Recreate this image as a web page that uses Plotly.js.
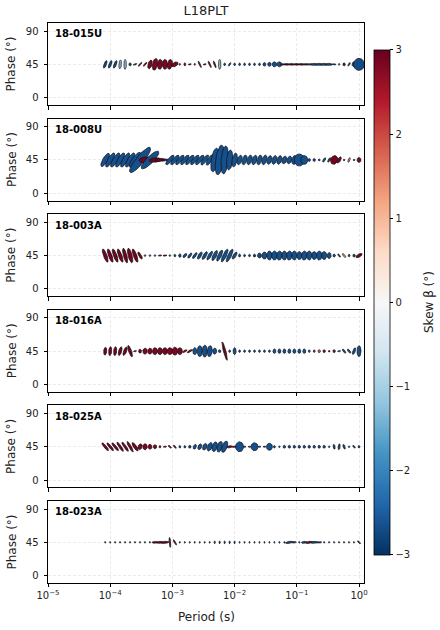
<!DOCTYPE html>
<html><head><meta charset="utf-8">
<script src="https://cdn.plot.ly/plotly-3.0.1.min.js"></script>
<style>html,body{margin:0;padding:0;background:#fff}</style>
</head><body><div id="chart" style="width:440px;height:630px"></div>
<script>
const chartTitle = "L18PLT";
const stationNames = ["18-015U","18-008U","18-003A","18-016A","18-025A","18-023A"];
const xTickVals = [1e-5,1e-4,1e-3,1e-2,1e-1,1];
const xTickText = ["10<sup>−5</sup>","10<sup>−4</sup>","10<sup>−3</sup>","10<sup>−2</sup>","10<sup>−1</sup>","10<sup>0</sup>"];
const yTickVals = [0,45,90];
const skewTicks = [-3,-2,-1,0,1,2,3];

// log10 of period (s)
const logPeriod = [-4.08,-4.00,-3.92,-3.84,-3.76,-3.68,-3.60,-3.52,-3.44,-3.36,-3.28,-3.20,-3.12,-3.04,-2.96,-2.88,-2.80,-2.72,-2.64,-2.56,-2.48,-2.40,-2.32,-2.24,-2.16,-2.08,-2.00,-1.92,-1.84,-1.76,-1.68,-1.60,-1.52,-1.44,-1.36,-1.28,-1.20,-1.12,-1.04,-0.96,-0.88,-0.80,-0.72,-0.64,-0.56,-0.48,-0.40,-0.32,-0.24,-0.16,-0.08,0.00];

// station 1: 18-015U
const s1Major = [8,8,8,9,10, 3,4,5,5,9, 12,10,10,10,7, 2,3,3,2,7, 3,7,7,10,2.5, 4,2.5,2.5,2.5,2.5, 2.5,2.5,3.5,4,5, 5,8,8,8,8, 8,6,7,7,7, 7,4,2,3,4, 5,12];
const s1Minor = [2.5,2.5,2.5,2.5,2.5, 2.5,1.2,1.5,1.5,4, 5,5,5,5,4, 1.5,2,1.2,1.5,1.5, 1.2,1.5,1.5,2.5,2, 1.5,2,2,2,2, 2,2,3,3.5,4.5, 5,1.5,1.5,1.5,1.5, 1.5,1.5,2,2,2, 2,1.2,1.5,2.5,1.5, 4,11];
const s1Azim = [20,20,20,5,0, 0,70,40,40,15, 10,5,0,10,60, 0,0,80,0,-25, 80,-25,-20,0,0, 30,0,0,0,0, 0,0,0,0,0, 0,90,90,90,90, 90,90,90,90,90, 90,90,0,0,30, 0,0];
const s1Skew = [-2.7,-2.7,-2.7,-1.3,-1.2, -2.7,2.85,2.9,2.9,2.85, 2.85,2.85,2.85,2.85,2.85, 2.75,2.85,2.75,2.75,2.8, 2.75,2.8,2.8,-1.2,-2.6, -2.6,-2.6,-2.6,-2.6,-2.6, -2.6,-2.6,-2.65,-2.65,-2.65, -2.65,2.85,2.85,2.85,2.85, 2.85,-2.65,-2.65,-2.65,-2.65, -2.65,-2.4,-2.4,2.85,-2.5, -2.65,-2.7];

// station 2: 18-008U
const s2Major = [15,16,16,16,16, 16,18,32,12,24, 12,10,8,12,12, 12,12,12,12,12, 12,12,24,30,28, 20,14,10,10,10, 10,10,10,9,9, 9,8,8,9,12, 9,3,3,2,5, 5,9,7,2,5, 2,5];
const s2Minor = [5,5,5,5,5, 5,6,8,6,7, 4.5,3,2,4,4, 4,4,4,4,4, 4,4,7,8,7, 6,5,4.5,4.5,4.5, 4.5,4.5,4.5,4.5,4.5, 4.5,4.5,4.5,5,10, 7,2.5,2.5,2,2, 2,7,3,1.5,1.8, 1.5,4];
const s2Azim = [30,30,30,30,30, 30,35,39,85,45, 85,85,85,40,40, 40,40,40,40,40, 35,30,10,8,5, 5,10,15,15,15, 15,15,15,15,15, 15,15,15,10,0, 0,0,0,0,30, 30,20,30,0,20, 0,0];
const s2Skew = [-2.65,-2.65,-2.65,-2.65,-2.65, -2.65,-2.65,-2.65,2.9,-2.65, 2.9,2.9,2.9,-2.65,-2.65, -2.65,-2.65,-2.65,-2.65,-2.65, -2.65,-2.65,-2.65,-2.65,-2.65, -2.65,-2.65,-2.65,-2.65,-2.65, -2.65,-2.65,-2.65,-2.65,-2.65, -2.65,-2.65,-2.65,-2.65,-2.65, -2.65,-2.65,-2.65,-2.65,-2.65, -2.65,2.9,2.85,-2.6,1.3, -2.6,2.8];

// station 3: 18-003A
const s3Major = [14,14,14,14,15, 15,14,8,2,2, 2,3.5,4,2,2.5, 3.5,5,6,7,8, 9,10,11,12,14, 14,8,3,2.5,2.5, 3,5,7,9,9, 9,9,9,9,8, 9,9,8,9,8, 6,3,4,5,2.5, 3,7];
const s3Minor = [3.5,3.5,3.5,3.5,3.5, 4,3.5,2.5,1.5,1.5, 1.5,1.2,1.2,1.5,2, 2.5,2.5,2.5,2.5,3, 3,3,3.5,3.5,3.5, 3.5,3,2.2,2,2, 2.5,4,5,5,5.5, 5.5,5,5.5,5,5, 5.5,5,5,5.5,5, 4,2.5,1.5,1.8,2, 2.5,3];
const s3Azim = [-20,-20,-20,-20,-15, -15,-20,-30,0,0, 0,80,80,0,0, 0,40,35,35,30, 30,30,25,25,25, 25,30,0,0,0, 0,0,0,0,0, 5,0,5,0,0, 5,0,0,0,0, 0,0,-40,-40,0, 0,60];
const s3Skew = [2.9,2.9,2.9,2.9,2.9, 2.9,2.9,2.9,-2.6,-2.6, -2.6,2.8,2.8,-2.6,-2.65, -2.65,-2.65,-2.65,-2.65,-2.65, -2.65,-2.65,-2.65,-2.65,-2.65, -2.65,-2.65,-2.65,-2.65,-2.65, -2.65,-2.65,-2.65,-2.65,-2.65, -2.65,-2.65,-2.65,-2.65,-2.65, -2.65,-2.65,-2.65,-2.65,-2.65, -2.65,-2.65,-2.65,1.2,-2.6, -2.6,2.9];

// station 4: 18-016A
const s4Major = [8,9,9,9,9, 12,3,4,6,6, 7,7,7,7,8, 7,5,6,7,11, 12,11,6,3,19, 2.5,7,2.5,2.5,2.5, 2.5,2.5,2.5,2.5,4.5, 4.5,4.5,4.5,4.5,4.5, 4.5,2.5,2.5,3,3, 2,3,3,5,5, 7,11];
const s4Minor = [3,3,3,3,3, 3,1.2,3,4.5,4.5, 5,5,5,5.5,5.5, 5,1.8,1.8,4,5, 5,5,4,2.5,2.5, 2,3,2,2,2, 2,2,2,2,3, 3,3,3,3,3, 3,2,2,2.5,2.5, 1.5,2.5,1.2,2,2, 2.5,4];
const s4Azim = [5,5,5,15,20, -20,80,0,0,0, 0,0,0,0,0, 0,60,60,0,0, 0,5,0,0,-15, 0,0,0,0,0, 0,0,0,0,0, 0,0,0,0,0, 0,0,0,0,0, 0,0,80,-40,-40, 20,0];
const s4Skew = [2.9,2.9,2.9,2.9,2.9, 2.9,2.8,2.85,2.85,2.85, 2.85,2.85,2.85,2.85,2.85, 2.85,2.8,2.8,-2.65,-2.65, -2.65,-2.65,-2.65,-2.65,2.9, -2.6,-2.65,-2.6,-2.6,-2.6, -2.6,-2.6,-2.6,-2.6,-2.65, -2.65,-2.65,-2.65,-2.65,-2.65, -2.65,-2.6,-2.6,1.8,2.85, 2.75,2.8,-2.6,-2.65,-2.65, -2.65,-2.65];

// station 5: 18-025A
const s5Major = [10,10,10,11,11, 12,10,6,6,5, 4,2.5,3.5,4,4, 2.5,2.5,3,5,6, 7,9,10,11,12, 6,5,10,3,3, 8,3,3,7,2.5, 2,3,3,3,3, 3,3,3,3,3, 2,5,6,5,2, 3.5,2.5];
const s5Minor = [2.5,2.5,2.5,2.5,2.5, 2.5,3,4,4.5,4, 3.5,2,1.2,1.5,1.5, 2,2,2.5,3,3.5, 4,4.5,5,5,5, 2,1.5,8,1.2,1.2, 7,1.2,1.2,6,2, 1.5,2.5,2.5,2.5,2.5, 2.5,2.5,2.5,2.5,2.5, 1.5,2,2,2,1.5, 1.5,2];
const s5Azim = [-40,-40,-40,-35,-35, -30,-35,20,0,0, 0,0,80,-50,-40, 0,0,0,20,20, 20,20,15,15,20, 80,85,0,90,90, 0,90,90,0,0, 0,0,0,0,0, 0,0,0,0,0, 0,-10,5,-20,0, -40,0];
const s5Skew = [2.9,2.9,2.9,2.9,2.9, 2.9,2.9,2.85,2.85,2.85, 2.85,2.75,2.75,2.75,2.75, -2.6,-2.6,-2.6,-2.65,-2.65, -2.65,-2.65,-2.65,-2.65,-2.65, 2.85,2.85,-2.65,-2.6,-2.6, -2.65,-2.6,-2.6,-2.65,-2.6, -2.6,-2.65,-2.65,-2.65,-2.65, -2.65,-2.65,-2.65,-2.65,-2.65, -2.6,-2.65,-2.65,-2.65,-2.6, -2.65,-2.6];

// station 6: 18-023A
const s6Major = [1.8,1.8,1.8,1.8,1.8, 1.8,1.8,1.8,1.8,1.8, 6,7,8,10,6, 1.8,1.8,1.8,1.8,1.8, 1.8,1.8,3,3,3, 3,3,1.8,1.8,1.8, 1.8,1.8,1.8,1.8,1.8, 1.8,1.8,8,4,1.8, 6,7,7,5,1.8, 1.8,1.8,1.8,1.8,1.8, 1.8,4];
const s6Minor = [1.2,1.2,1.2,1.2,1.2, 1.2,1.2,1.2,1.2,1.2, 1.8,2,2,1.5,1.5, 1.2,1.2,1.2,1.2,1.2, 1.2,1.2,1.2,1.2,1.2, 1.2,1.2,1.2,1.2,1.2, 1.2,1.2,1.2,1.2,1.2, 1.2,1.2,2,1.5,1.2, 2,2,2,1.5,1.2, 1.2,1.2,1.2,1.2,1.2, 1.2,1.5];
const s6Azim = [0,0,0,0,0, 0,0,0,0,0, 88,88,85,-5,-30, 0,0,0,0,0, 0,0,0,0,0, 0,0,0,0,0, 0,0,0,0,0, 0,0,80,80,0, 85,80,85,85,0, 0,0,0,0,0, 0,-45];
const s6Skew = [-2.65,-2.65,-2.65,-2.65,-2.65, -2.65,-2.65,-2.65,-2.65,-2.65, 2.85,2.85,2.85,2.8,2.8, -2.65,-2.65,-2.65,-2.65,-2.65, -2.65,-2.65,-2.65,-2.65,-2.65, -2.65,-2.65,-2.65,-2.65,-2.65, -2.65,-2.65,-2.65,-2.65,-2.65, -2.65,-2.65,-2.65,-2.65,-2.65, -2.65,2.8,-2.65,-2.65,-2.65, -2.65,-2.65,-2.65,-2.65,-2.65, -2.65,-2.65];

const stations = [
  {major:s1Major, minor:s1Minor, azim:s1Azim, skew:s1Skew},
  {major:s2Major, minor:s2Minor, azim:s2Azim, skew:s2Skew},
  {major:s3Major, minor:s3Minor, azim:s3Azim, skew:s3Skew},
  {major:s4Major, minor:s4Minor, azim:s4Azim, skew:s4Skew},
  {major:s5Major, minor:s5Minor, azim:s5Azim, skew:s5Skew},
  {major:s6Major, minor:s6Minor, azim:s6Azim, skew:s6Skew}
];

const rdbuHex = ['#053061','#2166ac','#4393c3','#92c5de','#d1e5f0','#f7f7f7','#fddbc7','#f4a582','#d6604d','#b2182b','#67001f'];
const colorscale = rdbuHex.map((c,i)=>[i/10,c]);
function hexRgb(h){return [parseInt(h.substr(1,2),16),parseInt(h.substr(3,2),16),parseInt(h.substr(5,2),16)];}
function skewColor(v){
  const t = Math.max(0,Math.min(1,(v+3)/6))*10;
  const i = Math.min(9,Math.floor(t)); const f = t-i;
  const a = hexRgb(rdbuHex[i]), b = hexRgb(rdbuHex[i+1]);
  return 'rgb('+a.map((c,j)=>Math.round(c+(b[j]-c)*f)).join(',')+')';
}

const XR=[-5,0.08], YR=[-10,101];
const plotW=316, panelH=82;
const pxPerDec = plotW/(XR[1]-XR[0]);
const pxPerDeg = panelH/(YR[1]-YR[0]);
const panelFrac = 0.14643, pitch = 0.17071;

const traces=[];
stations.forEach((st,k)=>{
  const xa = k===0?'x':'x'+(k+1), ya = k===0?'y':'y'+(k+1);
  for(let i=0;i<logPeriod.length;i++){
    const a=st.major[i]/2, b=st.minor[i]/2, az=st.azim[i]*Math.PI/180;
    const xs=[], ys=[];
    for(let j=0;j<=28;j++){
      const t=2*Math.PI*j/28;
      const px=a*Math.cos(t)*Math.sin(az)+b*Math.sin(t)*Math.cos(az);
      const py=a*Math.cos(t)*Math.cos(az)-b*Math.sin(t)*Math.sin(az);
      xs.push(Math.pow(10, logPeriod[i]+px/pxPerDec));
      ys.push(45+py/pxPerDeg);
    }
    traces.push({type:'scatter',mode:'lines',x:xs,y:ys,fill:'toself',fillcolor:skewColor(st.skew[i]),
      line:{color:'#111',width:0.7},xaxis:xa,yaxis:ya,hoverinfo:'skip',showlegend:false});
  }
});
traces.push({type:'scatter',mode:'markers',x:[1e-9,1e-9],y:[45,45],xaxis:'x',yaxis:'y',showlegend:false,hoverinfo:'skip',
  marker:{size:1,color:[-3,3],cmin:-3,cmax:3,colorscale:colorscale,showscale:true,
    colorbar:{x:1.0316,xanchor:'left',xref:'paper',y:0.501,yanchor:'middle',len:0.902,lenmode:'fraction',
      thickness:16,thicknessmode:'pixels',outlinewidth:0.8,outlinecolor:'#000',xpad:0,ypad:0,
      tickvals:skewTicks,ticks:'outside',ticklen:3.5,tickwidth:0.8,tickcolor:'#000',tickfont:{size:10,color:'#222'}}}});

const layout={width:440,height:630,margin:{l:48,r:76,t:23,b:47},paper_bgcolor:'#fff',plot_bgcolor:'#fff',
  font:{family:'DejaVu Sans, sans-serif',color:'#222'},showlegend:false,
  title:{text:chartTitle,x:0.5,xref:'paper',y:1-10/630,yref:'container',yanchor:'middle',font:{size:13,color:'#222'}},
  annotations:[]};
stationNames.forEach((nm,k)=>{
  const xa = k===0?'xaxis':'xaxis'+(k+1), ya = k===0?'yaxis':'yaxis'+(k+1);
  const xr = k===0?'x':'x'+(k+1), yr = k===0?'y':'y'+(k+1);
  const top = 1-pitch*k, dom=[Math.max(0,top-panelFrac),Math.min(1,top)];
  layout[xa]={type:'log',range:XR,domain:[0,1],anchor:yr,tickvals:xTickVals,ticktext:xTickText,showticklabels:k===5,
    ticks:'outside',ticklen:3.5,tickwidth:0.8,tickcolor:'#000',showline:true,linecolor:'#000',linewidth:1,mirror:true,
    showgrid:true,gridcolor:'#ebebeb',griddash:'3px,2px',gridwidth:0.5,zeroline:false,tickfont:{size:10,color:'#222'}};
  layout[ya]={range:YR,domain:dom,anchor:xr,tickvals:yTickVals,ticks:'outside',ticklen:3.5,tickwidth:0.8,tickcolor:'#000',
    showline:true,linecolor:'#000',linewidth:1,mirror:true,showgrid:true,gridcolor:'#ebebeb',griddash:'3px,2px',gridwidth:0.5,
    zeroline:false,tickfont:{size:10,color:'#222'},ticklabelstandoff:3};
  layout.annotations.push({text:'<b>'+nm+'</b>',xref:xr+' domain',yref:yr+' domain',x:0.017,y:0.866,xanchor:'left',yanchor:'middle',
    showarrow:false,font:{size:10,color:'#000'}});
  layout.annotations.push({text:'Phase (°)',xref:'paper',yref:yr+' domain',x:(11.5-48)/316,y:0.5,xanchor:'center',yanchor:'middle',
    textangle:-90,showarrow:false,font:{size:12,color:'#222'}});
});
layout.annotations.push({text:'Period (s)',xref:'paper',yref:'paper',x:0.5,y:-(617-583)/560,xanchor:'center',yanchor:'middle',
  showarrow:false,font:{size:12,color:'#222'}});
layout.annotations.push({text:'Skew β (°)',xref:'paper',yref:'paper',x:(429-48)/316,y:(583-302)/560,xanchor:'center',yanchor:'middle',
  textangle:-90,showarrow:false,font:{size:12,color:'#222'}});

Plotly.newPlot('chart',traces,layout,{displayModeBar:false,responsive:false});
</script></body></html>
